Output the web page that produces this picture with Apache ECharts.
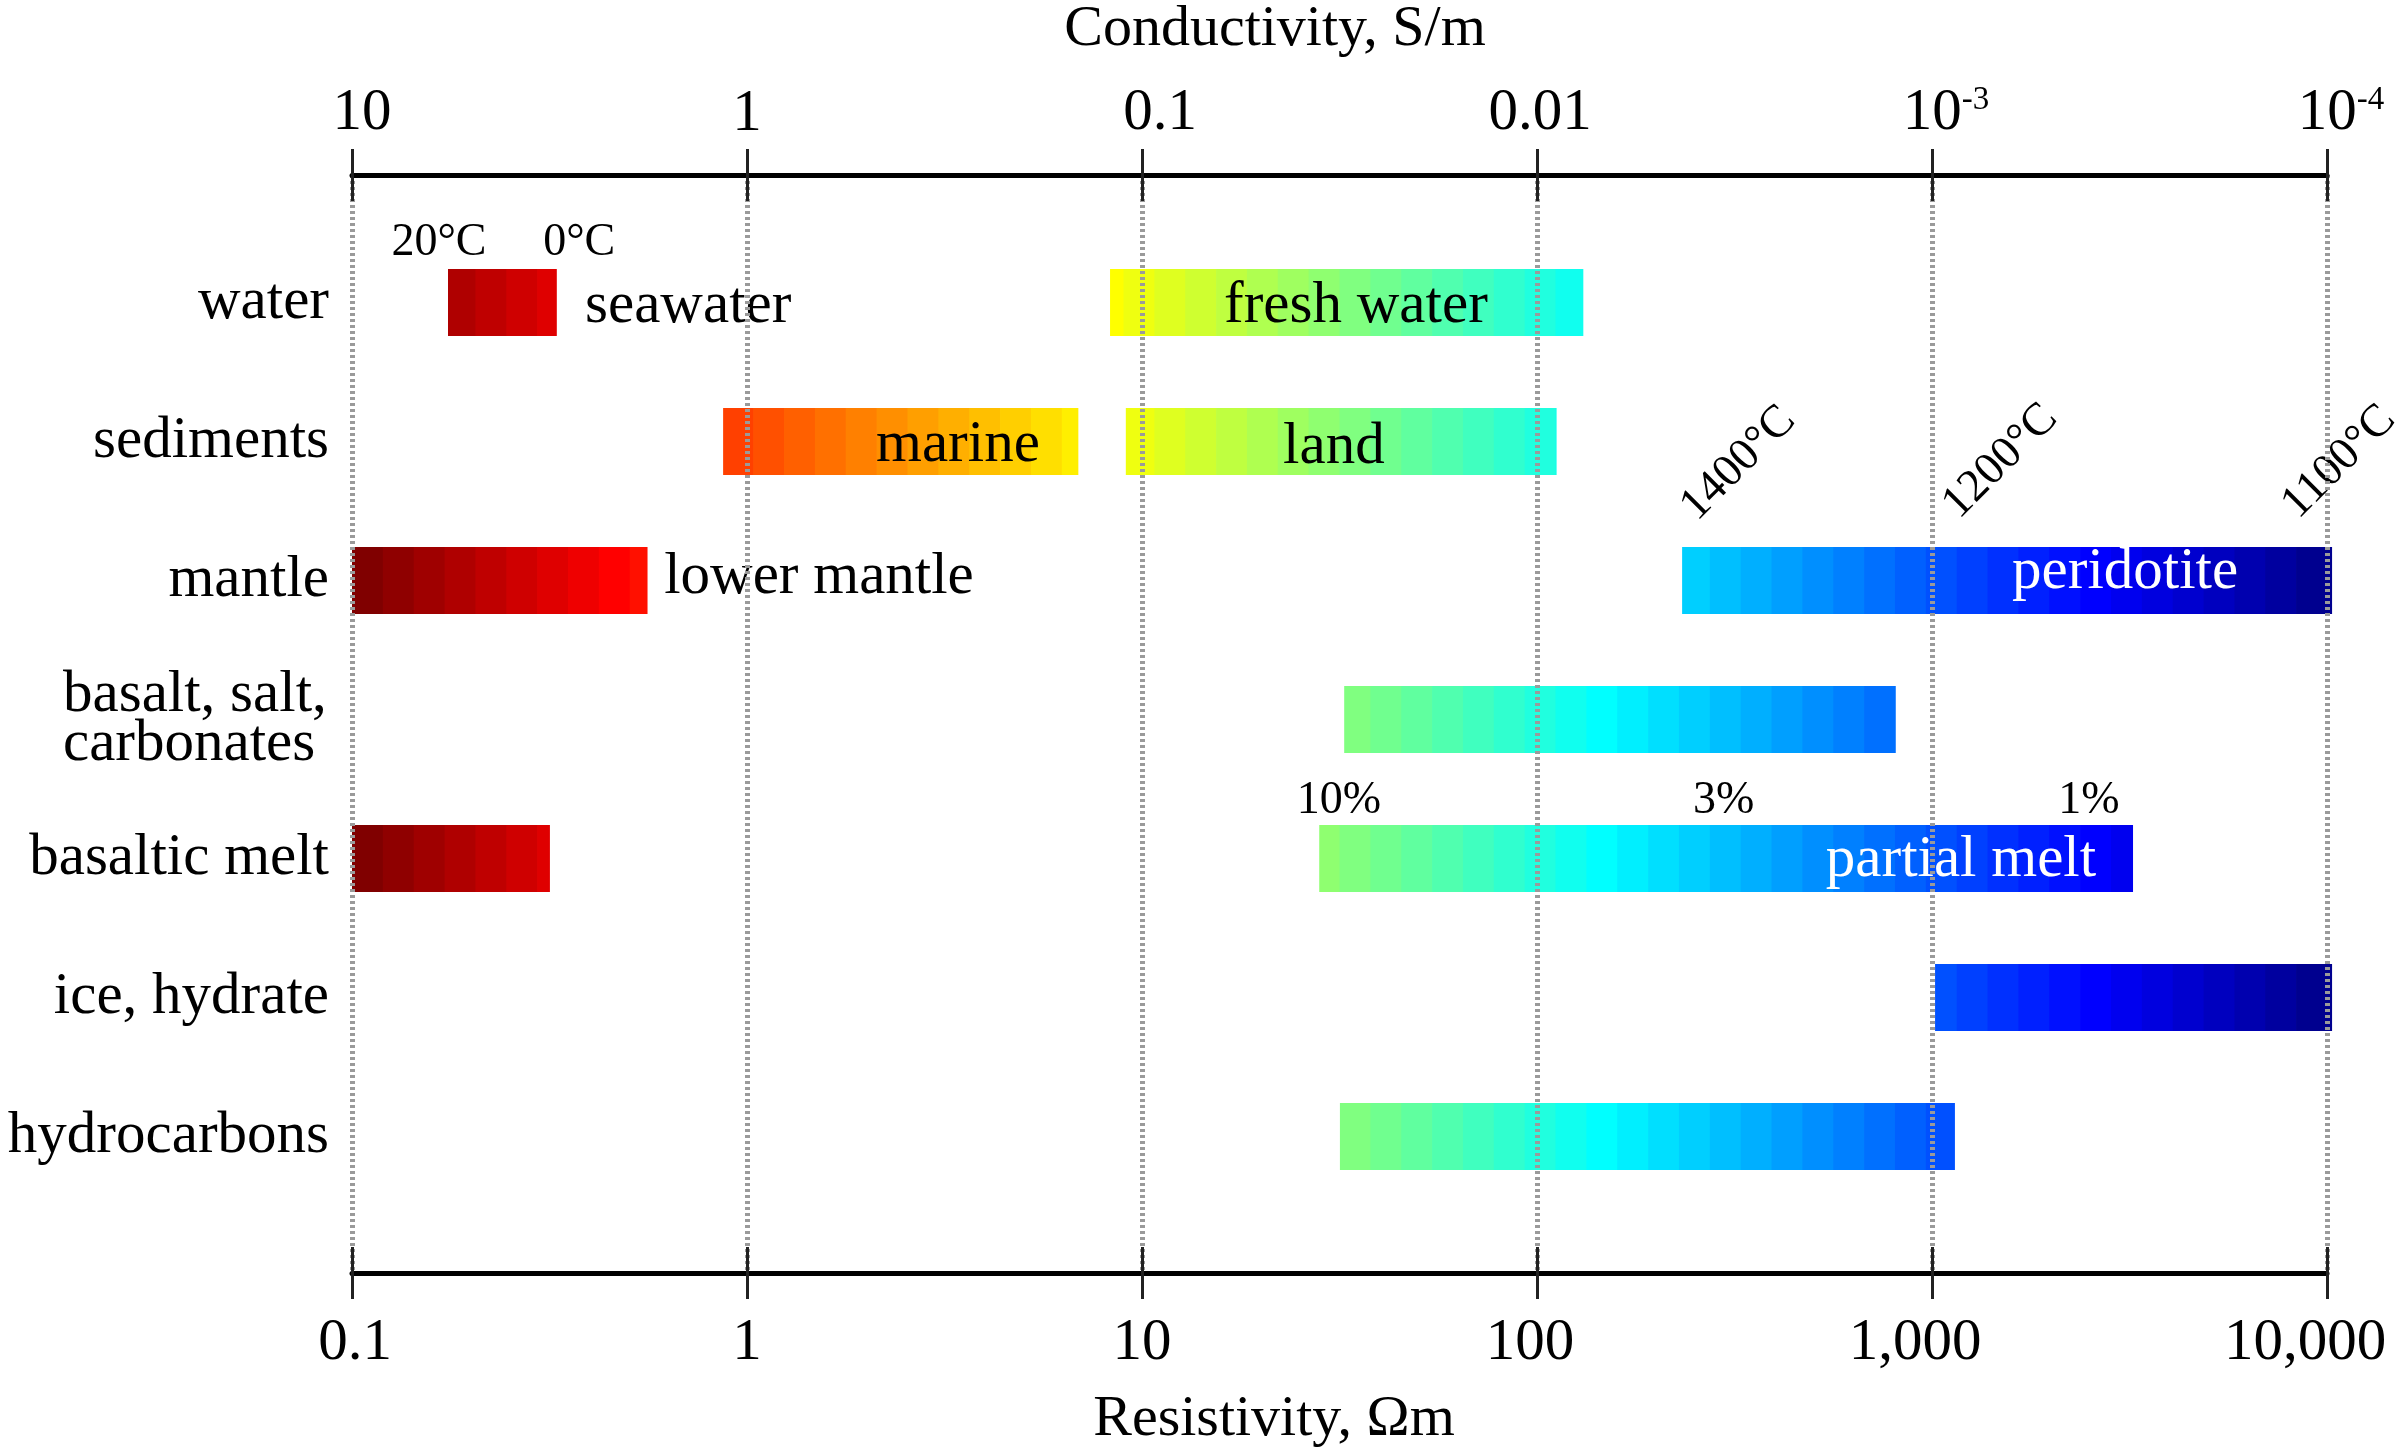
<!DOCTYPE html>
<html>
<head>
<meta charset="utf-8">
<script src="https://cdn.jsdelivr.net/npm/echarts@6/dist/echarts.min.js"></script>
<style>html,body{margin:0;padding:0;background:#fff}#c{width:2397px;height:1449px}</style>
</head>
<body>
<div id="c"></div>
<script>
// ---------------- data ----------------
const categories = ['water', 'sediments', 'mantle', 'basalt, salt,\ncarbonates', 'basaltic melt', 'ice, hydrate', 'hydrocarbons'];
const barNames = ['seawater', 'fresh water', 'marine', 'land', 'lower mantle', 'peridotite', 'basalt/salt/carbonates', 'basaltic melt', 'partial melt', 'ice, hydrate', 'hydrocarbons'];
const barRow   = [0, 0, 1, 1, 2, 2, 3, 4, 4, 5, 6];
const barLow   = [0.175, 8.3, 0.87, 9.1, 0.1, 233, 32.5, 0.1, 28.1, 1018, 31.7];
const barHigh  = [0.33, 131, 6.9, 112, 0.56, 10300, 806, 0.317, 3228, 10300, 1143];
const resistivityTicks = ['0.1', '1', '10', '100', '1,000', '10,000'];
const conductivityBase = ['10', '1', '0.1', '0.01', '10', '10'];
const conductivityExp  = ['', '', '', '', '-3', '-4'];
// annotation texts placed at resistivity values within rows
const annText = ['20°C', '0°C', 'seawater', 'fresh water', 'marine', 'land', 'lower mantle', 'peridotite', '1400°C', '1200°C', '1100°C', '10%', '3%', '1%', 'partial melt'];
const annX    = [0.166, 0.376, 0.389, 34.8, 3.42, 30.6, 0.617, 3083, 266, 1225, 8850, 31.5, 297, 2497, 1184];
const annRow  = [0, 0, 0, 0, 1, 1, 2, 2, 2, 2, 2, 4, 4, 4, 4];

// ---------------- layout only ----------------
const annStyle = [
  {dy: -60, size: 46, align: 'center'},
  {dy: -60, size: 46, align: 'center'},
  {dy: 4, size: 59, align: 'left'},
  {dy: 4, size: 59, align: 'center'},
  {dy: 4, size: 59, align: 'center'},
  {dy: 6, size: 59, align: 'center'},
  {dy: -3, size: 59, align: 'left'},
  {dy: -8, size: 59, align: 'center', color: '#fff'},
  {dy: -51, size: 46, align: 'left', rot: true},
  {dy: -53, size: 46, align: 'left', rot: true},
  {dy: -53, size: 46, align: 'left', rot: true},
  {dy: -58, size: 46, align: 'center'},
  {dy: -58, size: 46, align: 'center'},
  {dy: -58, size: 46, align: 'center'},
  {dy: 2, size: 59, align: 'center', color: '#fff'}
];
// horizontal nudges (px) of tick labels relative to their ticks
const bottomShift = [3, 0, 0, -7, -17, -22];
const topShift    = [10, 0, 18, 3, 0, 0];

const FONT = '"Liberation Serif", "Times New Roman", serif';

// Matlab-style jet colormap with m entries
function jet(m) {
  const n = Math.ceil(m / 4);
  const u = [];
  for (let i = 1; i <= n; i++) u.push(i / n);
  for (let i = 0; i < n - 1; i++) u.push(1);
  for (let i = n; i >= 1; i--) u.push(i / n);
  const gStart = Math.ceil(n / 2) - (m % 4 === 1 ? 1 : 0);
  const J = Array.from({length: m}, () => [0, 0, 0]);
  for (let j = 0; j < u.length; j++) {
    const g = gStart + j + 1, r = g + n, b = g - n;
    if (r <= m) J[r - 1][0] = u[j];
    if (g <= m) J[g - 1][1] = u[j];
    if (b >= 1) J[b - 1][2] = u[j];
  }
  return J.map(c => 'rgb(' + c.map(v => Math.round(v * 255)).join(',') + ')');
}
const NCELL = 64;
const JET = jet(NCELL);
const LOGMIN = -1, LOGMAX = 4;

const barData = barRow.map((r, i) => [barLow[i], r, barHigh[i]]);
const annData = annRow.map((r, i) => [annX[i], r]);

// rich gap tokens used to nudge labels
function gapRich(shifts, extra) {
  const rich = Object.assign({}, extra);
  shifts.forEach(s => { if (s) rich['g' + Math.abs(s)] = {width: Math.abs(s) * 2}; });
  return rich;
}
function withShift(body, s) {
  if (!s) return body;
  const g = '{g' + Math.abs(s) + '|}';
  return s > 0 ? g + body : body + g;
}

const chart = echarts.init(document.getElementById('c'), null, {renderer: 'canvas'});

const option = {
  backgroundColor: '#fff',
  animation: false,
  textStyle: {fontFamily: FONT},
  grid: [
    {left: 352, right: 70, top: 175, bottom: 176, containLabel: false, outerBoundsMode: 'none'},
    {left: 352, right: 70, top: 233, bottom: 243, containLabel: false, outerBoundsMode: 'none'}
  ],
  xAxis: [
    { // bottom: labels, outward ticks, dotted grid lines
      gridIndex: 0, type: 'log', logBase: 10, min: 0.1, max: 10000, position: 'bottom', z: 10,
      axisLine: {show: true, lineStyle: {color: '#000', width: 5}},
      axisTick: {show: true, inside: false, length: 26, lineStyle: {color: '#222', width: 3}},
      axisLabel: {margin: 41, fontSize: 59, color: '#000', fontFamily: FONT,
        formatter: v => {
          const i = Math.round(Math.log10(v)) - LOGMIN;
          return withShift('{t|' + resistivityTicks[i] + '}', bottomShift[i]);
        },
        rich: gapRich(bottomShift, {t: {fontSize: 59, fontFamily: FONT, color: '#000'}})},
      splitLine: {show: true, lineStyle: {color: '#9a9a9a', width: 5, type: [3, 3]}},
      minorTick: {show: false}
    },
    { // bottom inward ticks
      gridIndex: 0, type: 'log', logBase: 10, min: 0.1, max: 10000, position: 'bottom', z: 11,
      axisLine: {show: false},
      axisTick: {show: true, inside: true, length: 26, lineStyle: {color: '#222', width: 3}},
      axisLabel: {show: false}, splitLine: {show: false}
    },
    { // top: conductivity labels, outward ticks
      gridIndex: 0, type: 'log', logBase: 10, min: 0.1, max: 10000, position: 'top', z: 10,
      axisLine: {show: true, lineStyle: {color: '#000', width: 5}},
      axisTick: {show: true, inside: false, length: 26, lineStyle: {color: '#222', width: 3}},
      axisLabel: {margin: 32, color: '#000', fontFamily: FONT, fontSize: 59,
        formatter: v => {
          const i = Math.round(Math.log10(v)) - LOGMIN;
          let body;
          if (conductivityExp[i]) body = '{p|}{b|' + conductivityBase[i] + '}{s|' + conductivityExp[i] + '}';
          else body = '{b|' + conductivityBase[i] + '}';
          return withShift(body, topShift[i]);
        },
        rich: gapRich(topShift, {
          b: {fontSize: 59, fontFamily: FONT, color: '#000', lineHeight: 58},
          s: {fontSize: 33, fontFamily: FONT, color: '#000', lineHeight: 36, verticalAlign: 'top'},
          p: {width: 28}
        })},
      splitLine: {show: false}
    },
    { // top inward ticks
      gridIndex: 0, type: 'log', logBase: 10, min: 0.1, max: 10000, position: 'top', z: 11,
      axisLine: {show: false},
      axisTick: {show: true, inside: true, length: 26, lineStyle: {color: '#222', width: 3}},
      axisLabel: {show: false}, splitLine: {show: false}
    },
    { // hidden axis for bars
      gridIndex: 1, type: 'log', logBase: 10, min: 0.1, max: 10000, show: false
    }
  ],
  yAxis: [
    {gridIndex: 0, type: 'value', min: 0, max: 1, show: false},
    {
      gridIndex: 1, type: 'category', inverse: true, data: categories,
      axisLine: {show: false}, axisTick: {show: false}, splitLine: {show: false},
      axisLabel: {
        margin: 23, fontSize: 59, color: '#000', fontFamily: FONT,
        formatter: v => v.indexOf('\n') >= 0 ? v.split('\n').map(s => '{l|' + s + '}').join('\n') : v,
        rich: {l: {width: 266, align: 'left', fontSize: 59, lineHeight: 49, fontFamily: FONT, color: '#000'}}
      }
    }
  ],
  graphic: [
    {type: 'text', x: 1275, y: 30, style: {text: 'Conductivity, S/m', fill: '#000', fontSize: 58, fontFamily: FONT, align: 'center', verticalAlign: 'middle', textAlign: 'center', textVerticalAlign: 'middle'}},
    {type: 'text', x: 1274, y: 1420, style: {text: 'Resistivity, Ωm', fill: '#000', fontSize: 58, fontFamily: FONT, align: 'center', verticalAlign: 'middle', textAlign: 'center', textVerticalAlign: 'middle'}}
  ],
  series: [
    {
      type: 'custom', name: 'ranges', xAxisIndex: 4, yAxisIndex: 1, z: 2,
      encode: {x: [0, 2], y: 1},
      data: barData,
      renderItem: function (params, api) {
        const lo = api.value(0), row = api.value(1), hi = api.value(2);
        const band = api.size([1, 1])[1];
        const h = band * 0.482;
        const cy = api.coord([1, row])[1];
        const children = [];
        for (let k = 0; k < NCELL; k++) {
          const cl = k === 0 ? 0 : Math.pow(10, LOGMIN + (LOGMAX - LOGMIN) * k / NCELL);
          const ch = k === NCELL - 1 ? Infinity : Math.pow(10, LOGMIN + (LOGMAX - LOGMIN) * (k + 1) / NCELL);
          const a = Math.max(cl, lo), b = Math.min(ch, hi);
          if (a >= b) continue;
          const x1 = api.coord([a, row])[0], x2 = api.coord([b, row])[0];
          const last = b === hi;
          children.push({
            type: 'rect',
            shape: {x: x1, y: cy - h / 2, width: (x2 - x1) + (last ? 0 : 0.8), height: h},
            style: {fill: JET[NCELL - 1 - k]}
          });
        }
        return {type: 'group', children: children};
      }
    },
    {
      type: 'custom', name: 'labels', xAxisIndex: 4, yAxisIndex: 1, z: 3,
      encode: {x: 0, y: 1},
      data: annData,
      renderItem: function (params, api) {
        const i = params.dataIndex;
        const st = annStyle[i];
        const p = api.coord([api.value(0), api.value(1)]);
        const rot = !!st.rot;
        const va = rot ? 'bottom' : 'middle';
        return {
          type: 'text',
          x: p[0], y: p[1] + st.dy,
          rotation: rot ? Math.PI / 4 : 0,
          style: {
            text: annText[i], fill: st.color || '#000', fontSize: st.size, fontFamily: FONT,
            align: st.align, verticalAlign: va, textAlign: st.align, textVerticalAlign: va
          }
        };
      }
    }
  ]
};
chart.setOption(option);
</script>
</body>
</html>
